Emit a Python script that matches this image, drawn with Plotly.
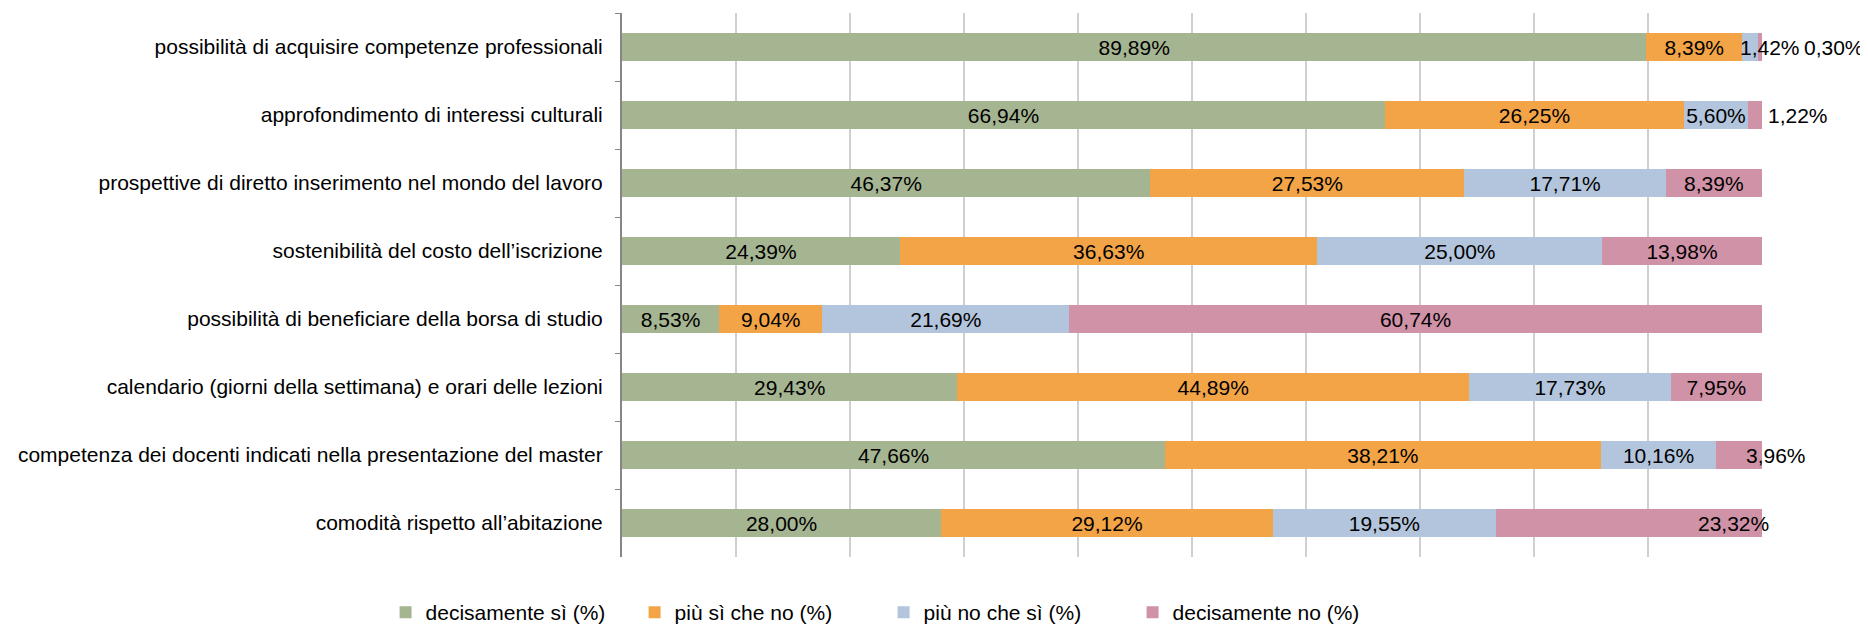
import plotly.graph_objects as go

categories = [
    "possibilità di acquisire competenze professionali",
    "approfondimento di interessi culturali",
    "prospettive di diretto inserimento nel mondo del lavoro",
    "sostenibilità del costo dell’iscrizione",
    "possibilità di beneficiare della borsa di studio",
    "calendario (giorni della settimana) e orari delle lezioni",
    "competenza dei docenti indicati nella presentazione del master",
    "comodità rispetto all’abitazione",
]

decisamente_si = [89.89, 66.94, 46.37, 24.39, 8.53, 29.43, 47.66, 28.00]
piu_si_che_no = [8.39, 26.25, 27.53, 36.63, 9.04, 44.89, 38.21, 29.12]
piu_no_che_si = [1.42, 5.60, 17.71, 25.00, 21.69, 17.73, 10.16, 19.55]
decisamente_no = [0.30, 1.22, 8.39, 13.98, 60.74, 7.95, 3.96, 23.32]

series = [
    ("decisamente sì (%)", decisamente_si, "#A5B592"),
    ("più sì che no (%)", piu_si_che_no, "#F3A447"),
    ("più no che sì (%)", piu_no_che_si, "#B3C5DC"),
    ("decisamente no (%)", decisamente_no, "#D092A7"),
]

# labels that Excel had moved by hand: (series index, row index) -> pixel shift from segment end
moved = {(2, 0): 12, (3, 0): 72, (3, 1): 36, (3, 6): 14, (3, 7): -28}

font = "Liberation Sans, Arial, sans-serif"
fig = go.Figure()
cum = [0.0] * len(categories)
annotations = []
for si, (name, vals, color) in enumerate(series):
    texts = []
    for ri, v in enumerate(vals):
        cum[ri] += v
        lab = f"{v:.2f}%".replace(".", ",")
        if (si, ri) in moved:
            texts.append("")
            annotations.append(dict(x=min(cum[ri], 100), y=categories[ri], text=lab, showarrow=False,
                                    xanchor="center", xshift=moved[(si, ri)],
                                    font=dict(size=21, color="black", family=font)))
        else:
            texts.append(lab)
    fig.add_trace(go.Bar(
        y=categories, x=vals, name=name, orientation="h",
        marker=dict(color=color, line=dict(width=0)),
        text=texts, textposition="inside", insidetextanchor="middle",
        textfont=dict(size=21, color="black", family=font),
        constraintext="none", cliponaxis=False,
    ))

# the page body keeps an 8px margin, so the figure is 8px smaller than the window
fig.update_layout(
    barmode="stack",
    bargap=0.6,
    width=1860, height=620,
    margin=dict(l=614, r=106, t=5, b=71, autoexpand=False),
    plot_bgcolor="white", paper_bgcolor="white",
    font=dict(family=font, size=21, color="black"),
    annotations=annotations,
    uniformtext=dict(mode=False),
    legend=dict(orientation="h", xref="container", yref="container",
                x=0.203, xanchor="left", y=0.058, yanchor="top",
                font=dict(size=21), traceorder="normal", itemwidth=30,
                entrywidth=204, entrywidthmode="pixels"),
)
fig.update_xaxes(range=[0, 100.03], dtick=10, showgrid=True, gridcolor="#D0D0D0", gridwidth=2,
                 showticklabels=False, zeroline=False, showline=False)
fig.update_yaxes(autorange="reversed", showline=True, linecolor="#868686", linewidth=2,
                 ticks="outside", tickson="boundaries", ticklen=5, tickcolor="#868686",
                 showgrid=False, tickfont=dict(size=21), ticklabelstandoff=13)

fig.write_html("out.html")
